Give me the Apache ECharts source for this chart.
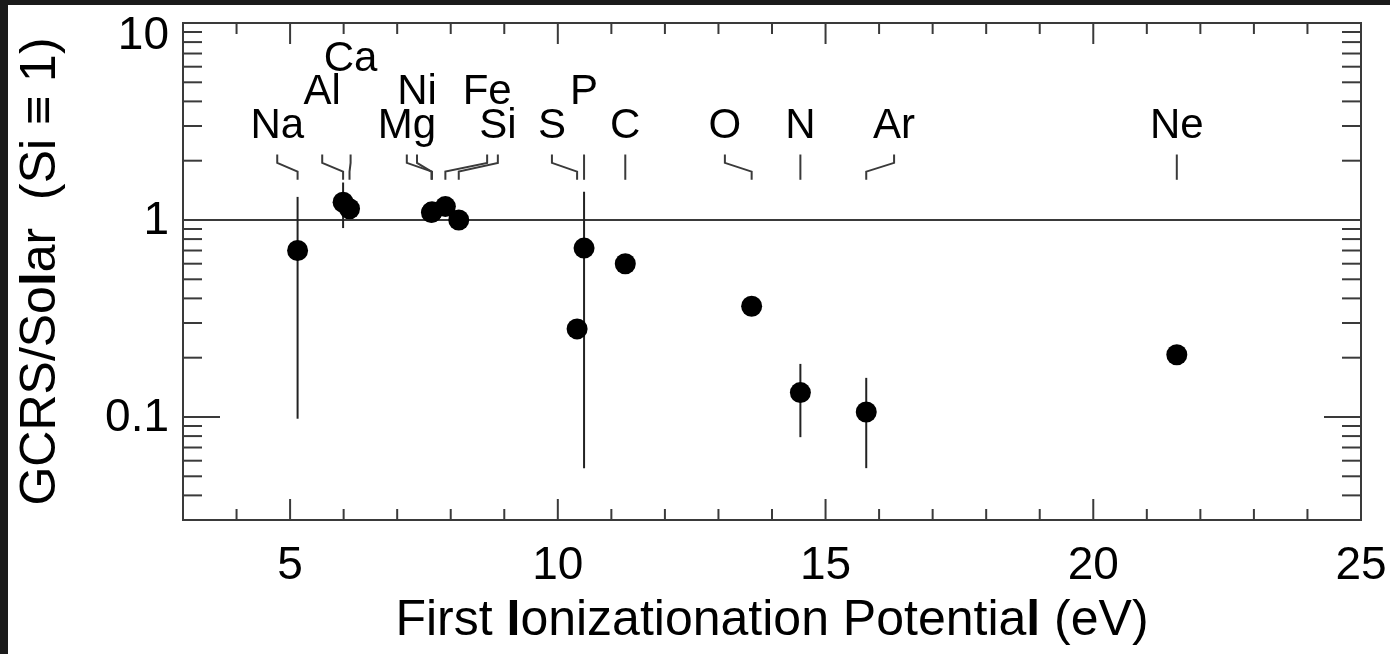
<!DOCTYPE html>
<html><head><meta charset="utf-8">
<script src="https://cdn.jsdelivr.net/npm/echarts@6/dist/echarts.min.js"></script>
<style>html,body{margin:0;padding:0;background:#fff;overflow:hidden}#c{width:1390px;height:654px}</style>
</head><body><div id="c"></div>
<script>
// ---- data ----
const elements = ['Na','Al','Ca','Mg','Ni','Fe','Si','S','P','C','O','N','Ar','Ne'];
const fip      = [5.14, 5.99, 6.11, 7.65, 7.64, 7.90, 8.15, 10.36, 10.49, 11.26, 13.62, 14.53, 15.76, 21.56];
const ratio    = [0.70, 1.23, 1.14, 1.10, 1.09, 1.17, 1.00, 0.28, 0.72, 0.60, 0.365, 0.133, 0.106, 0.207];
const errElements = ['Na','Al','P','N','Ar'];
const errLow      = [0.098, 0.91, 0.055, 0.079, 0.055];
const errHigh     = [1.31, 1.55, 1.39, 0.186, 0.158];
// label anchor (eV) and row for each element tag
const labelX   = [4.76, 5.60, 6.13, 7.18, 7.37, 8.68, 8.88, 9.89, 10.49, 11.26, 13.12, 14.53, 16.28, 21.56];
const labelRow = [0, 1, 2, 0, 1, 1, 0, 0, 1, 0, 0, 0, 0, 0];
const rowValue = [2.97, 4.45, 6.55];
const leaderY  = [2.15, 1.95, 1.76, 1.6];
// axis ticks
const xMajorTicks = [5, 10, 15, 20];
const xMinorTicks = [4, 6, 7, 8, 9, 11, 12, 13, 14, 16, 17, 18, 19, 21, 22, 23, 24];
const xTickValues = [5, 10, 15, 20, 25];
const xTickLabels = ['5', '10', '15', '20', '25'];
const yMajorTicks = [0.1];
const yMinorTicks = [0.03,0.04,0.05,0.06,0.07,0.08,0.09,0.2,0.3,0.4,0.5,0.6,0.7,0.8,0.9,2,3,4,5,6,7,8,9];
const yTickValues = [0.1, 1, 10];
const yTickLabels = ['0.1', '1', '10'];
const refLine = 1;

// ---- style ----
const FONT = '"Liberation Sans", Arial, Helvetica, sans-serif';
const INK = '#3a3a3a';
const LW = 2;

const chart = echarts.init(document.getElementById('c'), null, {renderer: 'canvas'});

function lineEl(x1, y1, x2, y2) {
  return {type: 'line', shape: {x1, y1, x2, y2}, style: {stroke: INK, lineWidth: LW}};
}

const option = {
  backgroundColor: '#fff',
  animation: false,
  graphic: [
    {type: 'rect', left: 0, top: 0, shape: {width: 1390, height: 5}, style: {fill: '#1b1b1b'}, z: 100},
    {type: 'rect', left: 0, top: 0, shape: {width: 8, height: 654}, style: {fill: '#1b1b1b'}, z: 100}
  ],
  grid: {left: 183, top: 23, right: 29, bottom: 134, show: true, borderColor: INK, borderWidth: LW,
         backgroundColor: 'transparent', containLabel: false, outerBoundsMode: 'none'},
  xAxis: {
    type: 'value', min: 3, max: 25,
    axisLine: {show: false}, axisTick: {show: false}, axisLabel: {show: false}, splitLine: {show: false},
    name: 'First {b|I}onizationation Potentia{b|l} (eV)',
    nameLocation: 'middle', nameGap: 76,
    nameTextStyle: {fontFamily: FONT, fontSize: 50, color: '#000', lineHeight: 50,
      rich: {b: {fontFamily: FONT, fontSize: 50, fontWeight: 'bold', color: '#000', lineHeight: 50}}}
  },
  yAxis: {
    type: 'log', logBase: 10, min: 0.03, max: 10,
    axisLine: {show: false}, axisTick: {show: false}, axisLabel: {show: false}, splitLine: {show: false},
    name: 'GCRS/So{b|l}ar  (Si ≡ 1)',
    nameLocation: 'middle', nameRotate: 90, nameGap: 117,
    nameTextStyle: {fontFamily: FONT, fontSize: 50, color: '#000', lineHeight: 50,
      rich: {b: {fontFamily: FONT, fontSize: 50, fontWeight: 'bold', color: '#000', lineHeight: 50}}}
  },
  series: [
    { // x ticks (bottom & top, inward)
      type: 'custom', silent: true, z: 3,
      data: xMinorTicks.map(v => [v, 1, 0]).concat(xMajorTicks.map(v => [v, 1, 1])),
      renderItem: (params, api) => {
        const cs = params.coordSys;
        const px = api.coord([api.value(0), 1])[0];
        const len = api.value(2) ? 21 : 11;
        const yb = cs.y + cs.height, yt = cs.y;
        return {type: 'group', children: [lineEl(px, yb, px, yb - len), lineEl(px, yt, px, yt + len)]};
      }
    },
    { // y ticks (left & right, inward)
      type: 'custom', silent: true, z: 3,
      data: yMinorTicks.map(v => [3, v, 0]).concat(yMajorTicks.map(v => [3, v, 1])),
      renderItem: (params, api) => {
        const cs = params.coordSys;
        const py = api.coord([3, api.value(1)])[1];
        const len = api.value(2) ? 37 : 19;
        const xl = cs.x, xr = cs.x + cs.width;
        return {type: 'group', children: [lineEl(xl, py, xl + len, py), lineEl(xr, py, xr - len, py)]};
      }
    },
    { // reference line at 1
      type: 'custom', silent: true, z: 3,
      data: [[3, refLine]],
      renderItem: (params, api) => {
        const cs = params.coordSys;
        const py = api.coord([3, api.value(1)])[1];
        return lineEl(cs.x, py, cs.x + cs.width, py);
      }
    },
    { // x tick labels
      type: 'custom', silent: true, z: 3,
      data: xTickValues.map((v, i) => [v, 1, i]),
      renderItem: (params, api) => {
        const cs = params.coordSys;
        const px = api.coord([api.value(0), 1])[0];
        return {type: 'text', x: px, y: cs.y + cs.height + 46,
          style: {text: xTickLabels[api.value(2)], font: '46px ' + FONT, fill: '#000',
                   align: 'center', verticalAlign: 'middle', textAlign: 'center', textVerticalAlign: 'middle'}};
      }
    },
    { // y tick labels (kept inside the picture at the top)
      type: 'custom', silent: true, z: 3,
      data: yTickValues.map((v, i) => [3, v, i]),
      renderItem: (params, api) => {
        const cs = params.coordSys;
        const py = Math.max(api.coord([3, api.value(1)])[1], cs.y + 12);
        return {type: 'text', x: cs.x - 14, y: py + 1,
          style: {text: yTickLabels[api.value(2)], font: '46px ' + FONT, fill: '#000',
                   align: 'right', verticalAlign: 'middle', textAlign: 'right', textVerticalAlign: 'middle'}};
      }
    },
    { // error bars
      type: 'custom', silent: true, z: 4,
      data: errElements.map((e, i) => [fip[elements.indexOf(e)], errLow[i], errHigh[i]]),
      encode: {x: 0, y: [1, 2]},
      renderItem: (params, api) => {
        const lo = api.coord([api.value(0), api.value(1)]);
        const hi = api.coord([api.value(0), api.value(2)]);
        return {type: 'line', shape: {x1: lo[0], y1: lo[1], x2: hi[0], y2: hi[1]},
                style: {stroke: '#222', lineWidth: LW}};
      }
    },
    { // leaders from labels to FIP positions
      type: 'custom', silent: true, z: 4,
      data: elements.map((e, i) => [labelX[i], leaderY[0], fip[i]]),
      renderItem: (params, api) => {
        const lx = api.value(0), fx = api.value(2);
        const pts = [
          api.coord([lx, leaderY[0]]), api.coord([lx, leaderY[1]]),
          api.coord([fx, leaderY[2]]), api.coord([fx, leaderY[3]])
        ];
        return {type: 'polyline', shape: {points: pts}, style: {stroke: INK, lineWidth: LW, fill: null}};
      }
    },
    { // element labels
      type: 'custom', silent: true, z: 5,
      data: elements.map((e, i) => [labelX[i], rowValue[labelRow[i]], i]),
      renderItem: (params, api) => {
        const p = api.coord([api.value(0), api.value(1)]);
        return {type: 'text', x: p[0], y: p[1],
          style: {text: elements[api.value(2)], font: '42px ' + FONT, fill: '#000',
                  align: 'center', verticalAlign: 'middle', textAlign: 'center', textVerticalAlign: 'middle'}};
      }
    },
    { // data points
      type: 'scatter', z: 6, silent: true,
      symbol: 'circle', symbolSize: 21,
      itemStyle: {color: '#000', opacity: 1},
      data: fip.map((x, i) => [x, ratio[i]])
    }
  ]
};
chart.setOption(option);
</script>
</body></html>
